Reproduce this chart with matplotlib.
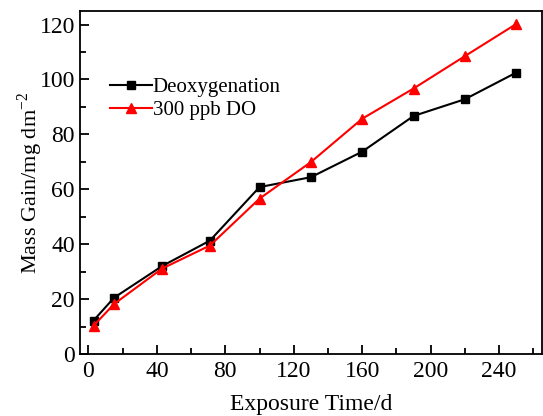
import matplotlib
matplotlib.use("Agg")
import matplotlib.pyplot as plt
from matplotlib.ticker import MultipleLocator

# exposure time (d) and mass gain (mg/dm^2)
days = [3, 15, 43, 71, 100, 130, 160, 190, 220, 250]
deox = [12.2, 20.5, 32.0, 41.3, 60.8, 64.4, 73.7, 86.7, 92.8, 102.5]
do300 = [10.3, 18.2, 31.1, 39.5, 56.6, 69.9, 85.7, 96.7, 108.5, 120.2]

plt.rcParams['font.family'] = ['Liberation Serif', 'DejaVu Serif']
plt.rcParams['mathtext.fontset'] = 'custom'
plt.rcParams['mathtext.rm'] = 'Liberation Serif'

fig = plt.figure(figsize=(5.43, 4.16), dpi=100)
ax = fig.add_axes([0.147, 0.149, 0.851, 0.825])

ax.plot(days, deox, '-s', color='black', lw=1.5, ms=6, label='Deoxygenation')
ax.plot(days, do300, '-^', color='red', lw=1.5, ms=7, label='300 ppb DO')

ax.set_xlim(-5, 265)
ax.set_ylim(0, 125)
ax.xaxis.set_major_locator(MultipleLocator(40))
ax.xaxis.set_minor_locator(MultipleLocator(20))
ax.yaxis.set_major_locator(MultipleLocator(20))
ax.yaxis.set_minor_locator(MultipleLocator(10))
ax.tick_params(which='both', direction='in', labelsize=17, width=1.3)
ax.tick_params(which='major', length=6.5)
ax.tick_params(which='minor', length=4)
ax.tick_params(axis='x', pad=5)
for s in ax.spines.values():
    s.set_linewidth(1.3)

ax.set_xlabel('Exposure Time/d', fontsize=17, labelpad=9)
ax.set_ylabel('Mass Gain/mg dm$^{\\mathrm{-2}}$', fontsize=16)
ax.yaxis.set_label_coords(-0.075, 0.5)

ax.legend(loc='upper left', bbox_to_anchor=(0.065, 0.805), frameon=False,
          fontsize=15, handlelength=2.0, handletextpad=0.05, labelspacing=0.15,
          borderpad=0, borderaxespad=0)

fig.savefig('out.png', dpi=100)
